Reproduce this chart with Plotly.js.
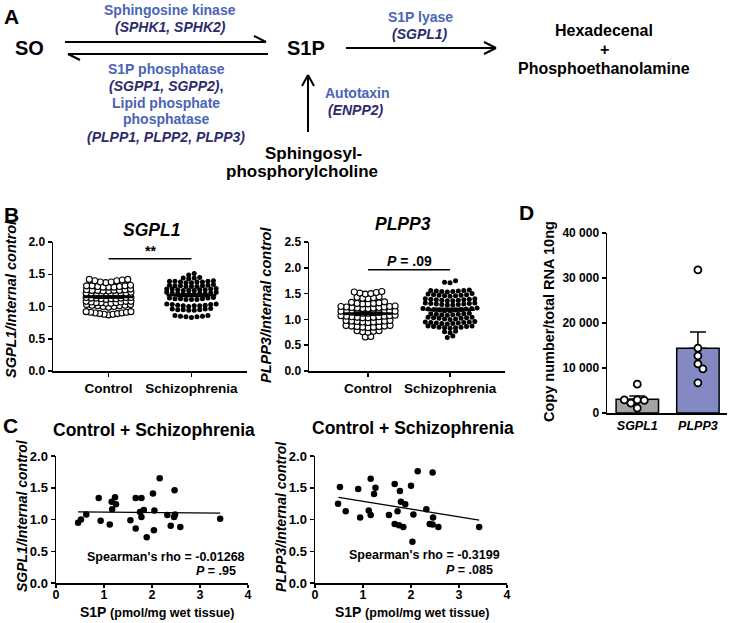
<!DOCTYPE html>
<html><head><meta charset="utf-8">
<script src="https://cdn.plot.ly/plotly-3.0.1.min.js"></script>
<style>html,body{margin:0;padding:0;background:#fff}#chart{width:729px;height:623px}</style>
</head><body><div id="chart"></div>
<script>
// ---------------- DATA ----------------
const groupLabels = ['Control', 'Schizophrenia'];

const sgpl1Control = [1.42,1.40,1.38,1.37,1.38,1.40,1.41,1.42, 1.32,1.31,1.30,1.30,1.30,1.31,1.32,1.33,1.32,
  1.26,1.25,1.25,1.24,1.24,1.25,1.25,1.26,1.27, 1.21,1.20,1.19,1.19,1.18,1.19,1.20,1.21,1.22,1.21,
  1.14,1.13,1.12,1.12,1.11,1.12,1.13,1.14,1.14,1.13, 1.08,1.07,1.06,1.05,1.05,1.06,1.06,1.07,1.08,1.08,
  1.03,1.02,1.01,1.00,0.99,1.00,1.01,1.02,1.03, 0.92,0.91,0.90,0.89,0.88,0.87,0.88,0.89,0.90,0.91,0.92];
const sgpl1Schizo = [1.51,1.49, 1.45,1.44,1.43,1.44, 1.39,1.38,1.37,1.37,1.38,1.38,1.39,1.39,1.40,
  1.33,1.32,1.31,1.31,1.31,1.32,1.32,1.33,1.34, 1.27,1.26,1.25,1.25,1.25,1.26,1.26,1.27,1.27,1.28,
  1.21,1.20,1.19,1.19,1.19,1.20,1.20,1.21,1.22,1.22, 1.13,1.12,1.11,1.11,1.11,1.12,1.12,1.13,1.14,
  1.03,1.02,1.01,1.00,1.01,1.01,1.02,1.03,1.04,1.04, 0.96,0.95,0.94,0.94,0.95,0.95,0.96,0.97,
  0.86,0.85,0.84,0.83,0.84,0.85,0.86];
const plpp3Control = [1.53,1.51,1.49,1.50,1.52,1.54, 1.43,1.41,1.40,1.42,1.44, 1.33,1.31,1.30,1.30,1.31,1.32,1.34,
  1.25,1.24,1.23,1.22,1.21,1.21,1.22,1.23,1.24,1.25,1.26, 1.16,1.15,1.14,1.13,1.12,1.12,1.13,1.14,1.15,1.16,1.16,
  1.07,1.06,1.05,1.04,1.03,1.03,1.04,1.05,1.06,1.07,1.08, 0.98,0.97,0.96,0.95,0.94,0.95,0.96,0.97,0.98,
  0.88,0.87,0.86,0.85,0.84,0.85,0.86,0.87,0.88, 0.78,0.77,0.75,0.76,0.78, 0.67,0.66];
const plpp3Schizo = [1.75,1.72,1.71, 1.56,1.55,1.54,1.53,1.54,1.55,1.56,1.57, 1.48,1.47,1.46,1.45,1.46,1.47,1.48,1.49,1.50,
  1.39,1.38,1.37,1.36,1.36,1.37,1.38,1.39,1.40,1.40, 1.31,1.30,1.29,1.28,1.28,1.29,1.30,1.31,1.32,1.32,
  1.21,1.20,1.19,1.18,1.17,1.17,1.18,1.19,1.20,1.21,1.22, 1.11,1.10,1.09,1.08,1.09,1.10,1.11,1.12,
  1.04,1.03,1.02,1.01,1.00,1.01,1.02,1.03,1.04, 0.95,0.94,0.93,0.92,0.91,0.92,0.93,0.94,0.95,0.96,
  0.87,0.86,0.85,0.84,0.83,0.84,0.85,0.86,0.87, 0.77,0.76,0.74, 0.68,0.65];

const copyGenes = ['SGPL1', 'PLPP3'];
const copySGPL1 = [6400, 2900, 2800, 1100, 2200, 2900];
const copyPLPP3 = [31800, 14400, 12700, 10900, 9800, 6700];

const s1pC1 = [0.46,0.52,0.63,0.89,0.93,1.12,1.16,1.17,1.23,1.25,1.55,1.66,1.66,1.78,1.75,1.78,1.83,1.89,2.02,2.04,2.05,2.16,2.32,2.39,2.46,2.47,2.48,2.59,3.42];
const sgpl1C1 = [0.95,1.00,1.08,1.34,0.98,0.92,1.28,1.16,1.35,1.24,0.99,1.34,0.86,1.34,1.12,1.04,1.15,0.72,1.41,0.83,1.14,1.65,1.07,0.90,1.04,1.46,1.08,0.88,1.01];
const fitC1X = [0.46, 3.42];
const fitC1Y = [1.12, 1.10];

const s1pC2 = [0.48,0.52,0.64,0.90,0.94,1.12,1.16,1.16,1.23,1.26,1.54,1.66,1.66,1.75,1.72,1.77,1.79,1.84,1.88,2.00,2.03,2.05,2.14,2.32,2.39,2.45,2.45,2.46,2.57,3.42];
const plpp3C2 = [1.25,1.51,1.13,1.48,1.03,1.14,1.64,1.07,1.40,1.50,1.07,1.56,0.93,0.91,1.13,1.45,1.28,0.88,1.24,1.53,0.65,1.08,1.76,1.16,0.93,0.92,1.74,1.03,0.88,0.88];
const fitC2X = [0.49, 3.42];
const fitC2Y = [1.35, 0.99];

const rhoC1 = '-0.01268', pC1 = '.95';
const rhoC2 = '-0.3199', pC2 = '.085';
const sigB1 = '**', pB2 = '.09';

// ---------------- HELPERS ----------------
const W = 729, H = 623;
const FONT = 'Liberation Sans, Arial, Helvetica, sans-serif';
const BLUE = '#4a64b6', NAVY = '#2c2b6c';
const xd = (a, b) => [a / W, b / W];
const yd = (top, bot) => [1 - bot / H, 1 - top / H];
const px = x => x / W, py = y => 1 - y / H;

function rowSwarm(vals, thr, spacing, maxHalf) {
  const s = vals.slice().sort((a, b) => a - b);
  const rows = []; let cur = [s[0]], start = s[0];
  for (let i = 1; i < s.length; i++) {
    if (s[i] - start > thr) { rows.push(cur); cur = [s[i]]; start = s[i]; } else cur.push(s[i]);
  }
  rows.push(cur);
  const xs = [], ys = [];
  rows.forEach(r => {
    const n = r.length;
    const sp = n > 1 ? Math.min(spacing, 2 * maxHalf / (n - 1)) : 0;
    const slots = [...Array(n).keys()].map(k => (k - (n - 1) / 2) * sp)
      .sort((a, b) => Math.abs(a) - Math.abs(b) || a - b);
    r.forEach((v, i) => { xs.push(slots[i]); ys.push(v); });
  });
  return { xs, ys };
}
function greedySwarm(vals, pxY, pxX, d) {
  const placed = [], offs = [];
  vals.forEach(v => {
    const y = v * pxY; let best = 0;
    for (let k = 0; k < 400; k++) {
      const c = k === 0 ? 0 : (k % 2 ? 1 : -1) * Math.ceil(k / 2) * 0.5;
      if (placed.every(p => Math.hypot(p.x - c, p.y - y) >= d)) { best = c; break; }
    }
    placed.push({ x: best, y }); offs.push(best / pxX);
  });
  return offs;
}
const mean = a => a.reduce((s, v) => s + v, 0) / a.length;
const sem = a => { const m = mean(a); return Math.sqrt(a.reduce((s, v) => s + (v - m) ** 2, 0) / (a.length - 1)) / Math.sqrt(a.length); };

function ann(text, x, y, size, opts = {}) {
  return Object.assign({ text, xref: 'paper', yref: 'paper', x: px(x), y: py(y), showarrow: false,
    xanchor: 'center', yanchor: 'middle',
    font: { family: FONT, size, color: opts.color || '#000', weight: 'bold', style: opts.italic ? 'italic' : 'normal' } }, opts.extra || {});
}
function seg(x0, y0, x1, y1, w) {
  return { type: 'line', xref: 'paper', yref: 'paper', x0: px(x0), y0: py(y0), x1: px(x1), y1: py(y1), line: { color: '#000', width: w || 2 } };
}

// ---------------- TRACES ----------------
const traces = [];
const shapes = [];
function swarmTraces(ctrl, scz, xa, ya, thr, ppu, halfC, halfS) {
  const sc = rowSwarm(ctrl, thr, 5.5 / ppu, halfC);
  const ss = rowSwarm(scz, thr, 5.5 / ppu, halfS);
  traces.push({ type: 'scatter', mode: 'markers', xaxis: xa, yaxis: ya, x: sc.xs.map(v => v + 0), y: sc.ys,
    marker: { symbol: 'circle', size: 6, color: '#fff', line: { color: '#000', width: 1.1 } }, hoverinfo: 'skip' });
  traces.push({ type: 'scatter', mode: 'markers', xaxis: xa, yaxis: ya, x: ss.xs.map(v => v + 1), y: ss.ys,
    marker: { symbol: 'circle', size: 5, color: '#000' }, hoverinfo: 'skip' });
  [[ctrl, 0], [scz, 1]].forEach(([arr, c]) => {
    const m = mean(arr), e = sem(arr);
    shapes.push({ type: 'line', xref: xa, yref: ya, x0: c - 0.3, x1: c + 0.3, y0: m, y1: m, line: { color: '#000', width: 2.5 } });
    shapes.push({ type: 'line', xref: xa, yref: ya, x0: c, x1: c, y0: m - e, y1: m + e, line: { color: '#000', width: 1.5 } });
    shapes.push({ type: 'line', xref: xa, yref: ya, x0: c - 0.18, x1: c + 0.18, y0: m - e, y1: m - e, line: { color: '#000', width: 1.5 } });
    shapes.push({ type: 'line', xref: xa, yref: ya, x0: c - 0.18, x1: c + 0.18, y0: m + e, y1: m + e, line: { color: '#000', width: 1.5 } });
  });
}
swarmTraces(sgpl1Control, sgpl1Schizo, 'x', 'y', 0.052, 83, 0.27, 0.33);
swarmTraces(plpp3Control, plpp3Schizo, 'x2', 'y2', 0.065, 82, 0.33, 0.33);

// significance bars
shapes.push({ type: 'line', xref: 'x', yref: 'y', x0: 0, x1: 1, y0: 1.74, y1: 1.74, line: { color: '#000', width: 1.5 } });
shapes.push({ type: 'line', xref: 'x2', yref: 'y2', x0: 0, x1: 1, y0: 1.96, y1: 1.96, line: { color: '#000', width: 1.5 } });

// Panel D bars
const dMeans = [mean(copySGPL1), mean(copyPLPP3)];
const dSems = [sem(copySGPL1), sem(copyPLPP3)];
traces.push({ type: 'bar', xaxis: 'x3', yaxis: 'y3', x: [0, 1], y: dMeans, width: 0.7,
  marker: { color: ['#a3a3a3', '#8389c3'], line: { color: '#000', width: 1.5 } },
  error_y: { type: 'data', symmetric: false, array: dSems, arrayminus: [0, 0], color: '#000', thickness: 1.5, width: 8 },
  hoverinfo: 'skip' });
[copySGPL1, copyPLPP3].forEach((arr, i) => {
  const offs = greedySwarm(arr, 180 / 40000, 60.6, 7);
  traces.push({ type: 'scatter', mode: 'markers', xaxis: 'x3', yaxis: 'y3', x: offs.map(o => o + i), y: arr,
    marker: { symbol: 'circle', size: 7, color: '#fff', line: { color: '#000', width: 1.8 } }, hoverinfo: 'skip' });
});

// Panel C
traces.push({ type: 'scatter', mode: 'markers', xaxis: 'x4', yaxis: 'y4', x: s1pC1, y: sgpl1C1, marker: { size: 6.5, color: '#000' }, hoverinfo: 'skip' });
traces.push({ type: 'scatter', mode: 'lines', xaxis: 'x4', yaxis: 'y4', x: fitC1X, y: fitC1Y, line: { color: '#000', width: 1.3 }, hoverinfo: 'skip' });
traces.push({ type: 'scatter', mode: 'markers', xaxis: 'x5', yaxis: 'y5', x: s1pC2, y: plpp3C2, marker: { size: 6.5, color: '#000' }, hoverinfo: 'skip' });
traces.push({ type: 'scatter', mode: 'lines', xaxis: 'x5', yaxis: 'y5', x: fitC2X, y: fitC2Y, line: { color: '#000', width: 1.3 }, hoverinfo: 'skip' });

// ---------------- AXES ----------------
function ax(domain, anchor, extra, fsize) {
  return Object.assign({ domain, anchor, showline: true, linecolor: '#000', linewidth: 1.5, ticks: 'outside', ticklen: 4,
    tickwidth: 1.5, tickcolor: '#000', showgrid: false, zeroline: false, fixedrange: true,
    tickfont: { family: FONT, size: fsize || 12, color: '#000', weight: 'bold' } }, extra);
}
const layout = {
  width: W, height: H, margin: { l: 0, r: 0, t: 0, b: 0 }, paper_bgcolor: '#fff', plot_bgcolor: 'rgba(0,0,0,0)',
  showlegend: false, separators: '. ', hovermode: false,
  xaxis: ax(xd(53, 247), 'y', { range: [-0.67, 1.67], tickvals: [0, 1], ticktext: groupLabels }, 13.5),
  yaxis: ax(yd(242, 371), 'x', { range: [0, 2], dtick: 0.5, tickformat: '.1f' }, 12),
  xaxis2: ax(xd(309, 505), 'y2', { range: [-0.72, 1.67], tickvals: [0, 1], ticktext: groupLabels }, 13.5),
  yaxis2: ax(yd(242, 371), 'x2', { range: [0, 2.5], dtick: 0.5, tickformat: '.1f' }, 12),
  xaxis3: ax(xd(607, 727), 'y3', { range: [-0.5, 1.48], tickvals: [0, 1], ticktext: copyGenes.map(g => '<i>' + g + '</i>'), ticks: '' }, 12.5),
  yaxis3: ax(yd(233, 413), 'x3', { range: [0, 40000], dtick: 10000, tickformat: ',d' }, 12),
  xaxis4: ax(xd(56, 248), 'y4', { range: [0, 4], dtick: 1, ticklen: 3, ticklabelstandoff: -4 }, 12.5),
  yaxis4: ax(yd(456, 583), 'x4', { range: [0, 2], dtick: 0.5, tickformat: '.1f' }, 13),
  xaxis5: ax(xd(315, 507), 'y5', { range: [0, 4], dtick: 1, ticklen: 3, ticklabelstandoff: -4 }, 12.5),
  yaxis5: ax(yd(456, 583), 'x5', { range: [0, 2], dtick: 0.5, tickformat: '.1f' }, 13),
  shapes: shapes.concat([
    seg(65, 42, 266, 42), seg(266, 42, 254, 36),
    seg(68, 54, 268, 54), seg(68, 54, 80, 60),
    seg(346, 48, 496, 48), seg(496, 48, 484, 42), seg(496, 48, 484, 54),
    seg(308, 132, 308, 75), seg(308, 75, 302, 86), seg(308, 75, 314, 86)
  ]),
  annotations: [
    // Panel A
    ann('A', 11, 16, 21),
    ann('Sphingosine kinase', 170, 10, 14, { color: BLUE }),
    ann('(SPHK1, SPHK2)', 170, 27, 14, { color: NAVY, italic: true }),
    ann('SO', 29, 48, 20),
    ann('S1P', 306, 48, 20),
    ann('S1P lyase', 420, 17, 14, { color: BLUE }),
    ann('(SGPL1)', 420, 34, 14, { color: NAVY, italic: true }),
    ann('Hexadecenal', 604, 31, 16),
    ann('+', 604, 50, 16),
    ann('Phosphoethanolamine', 604, 69, 16),
    ann('S1P phosphatase', 166, 69, 14, { color: BLUE }),
    ann('<i>(SGPP1, SGPP2)</i>,', 166, 86, 14, { color: NAVY }),
    ann('Lipid phosphate', 166, 103, 14, { color: BLUE }),
    ann('phosphatase', 166, 119, 14, { color: BLUE }),
    ann('(PLPP1, PLPP2, PLPP3)', 166, 137, 14, { color: NAVY, italic: true }),
    ann('Autotaxin', 357, 93, 14, { color: BLUE }),
    ann('(ENPP2)', 356, 110, 14, { color: NAVY, italic: true }),
    ann('Sphingosyl-', 313, 153, 17),
    ann('phosphorylcholine', 302, 172, 17),
    // Panel B
    ann('B', 11, 214, 21),
    ann('SGPL1', 151, 230, 17.5, { italic: true }),
    ann('PLPP3', 403, 224, 17.5, { italic: true }),
    ann(sigB1, 150, 251, 14),
    ann('<i>P</i> = ' + pB2, 409, 261, 14),
    ann('SGPL1/Internal control', 11, 299, 14.5, { italic: true, extra: { textangle: -90 } }),
    ann('PLPP3/Internal control', 266, 305, 14.5, { italic: true, extra: { textangle: -90 } }),
    // Panel D
    ann('D', 526, 212, 21),
    ann('Copy number/total RNA 10ng', 549, 322, 14.5, { extra: { textangle: -90 } }),
    // Panel C
    ann('C', 10, 425, 21),
    ann('Control + Schizophrenia', 154, 430, 17.5),
    ann('Control + Schizophrenia', 413, 428, 17.5),
    ann('SGPL1/Internal control', 22, 516, 14, { italic: true, extra: { textangle: -90 } }),
    ann('PLPP3/Internal control', 281, 517, 14, { italic: true, extra: { textangle: -90 } }),
    ann("Spearman's rho = " + rhoC1, 247, 557, 12.5, { extra: { xanchor: 'right' } }),
    ann('<i>P</i> = ' + pC1, 238, 571, 12.5, { extra: { xanchor: 'right' } }),
    ann("Spearman's rho = " + rhoC2, 502, 555, 12.5, { extra: { xanchor: 'right' } }),
    ann('<i>P</i> = ' + pC2, 495, 570, 12.5, { extra: { xanchor: 'right' } }),
    ann('S1P <span style="font-size:12.5px">(pmol/mg wet tissue)</span>', 157, 622, 14, { extra: { yanchor: 'bottom' } }),
    ann('S1P <span style="font-size:12.5px">(pmol/mg wet tissue)</span>', 412, 622, 14, { extra: { yanchor: 'bottom' } })
  ]
};
Plotly.newPlot('chart', traces, layout, { staticPlot: true, displayModeBar: false });
</script></body></html>
